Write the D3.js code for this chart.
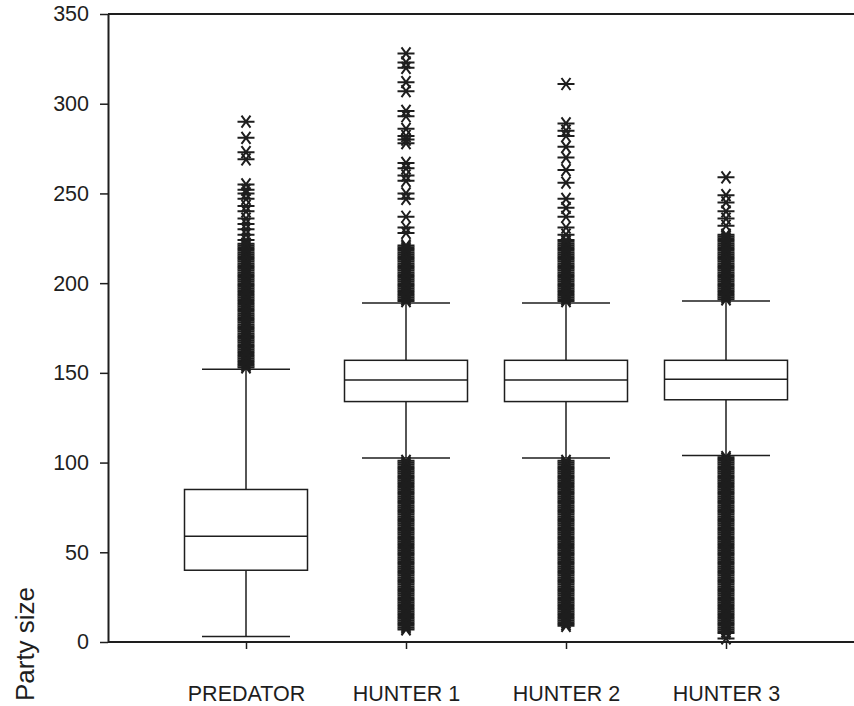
<!DOCTYPE html>
<html>
<head>
<meta charset="utf-8">
<script src="https://cdn.jsdelivr.net/npm/d3@7"></script>
<style>
  body { margin: 0; background: #fff; }
  text { font-family: "Liberation Sans", Arial, sans-serif; fill: #1e1e1e; }
</style>
</head>
<body>
<script>
const width = 854, height = 706;

const categories = ["PREDATOR", "HUNTER 1", "HUNTER 2", "HUNTER 3"];
const yTicks = [0, 50, 100, 150, 200, 250, 300, 350];

// box statistics
const q1 = [40, 134, 134, 135];
const medians = [59, 146, 146, 146.5];
const q3 = [85, 157, 157, 157];
const whiskerLow = [3, 102.5, 102.5, 104];
const whiskerHigh = [152, 189, 189, 190];

// party sizes are integers: every value inside these spans shows up as an outlier
const denseLowSpans = [null, [7, 101], [9, 101], [5, 103]];
const denseHighSpans = [[153, 222], [190, 221], [190, 224], [191, 227]];
// isolated outliers
const sparseOutliers = [
  [224, 227, 230, 233, 236, 240, 243, 247, 250, 252, 255, 269, 273, 281, 290],
  [228, 231, 237, 247, 250, 257, 260, 264, 267, 278, 280, 282, 286, 293, 296, 307, 312, 320, 323, 328],
  [227, 231, 237, 242, 247, 256, 263, 270, 276, 282, 285, 289, 311],
  [2, 232, 236, 240, 245, 249, 259]
];

const ink = "#1e1e1e";
const fontSize = 21.5;

const svg = d3.select("body").append("svg")
  .attr("width", width)
  .attr("height", height);

const x = d3.scalePoint()
  .domain(categories)
  .range([108, 864])
  .padding(0.8625);

const y = d3.scaleLinear()
  .domain([0, 350])
  .range([642, 14]);

// frame top line (right side runs off the picture)
svg.append("line")
  .attr("x1", 108).attr("x2", width)
  .attr("y1", y(350)).attr("y2", y(350))
  .attr("stroke", ink).attr("stroke-width", 2);

// y axis
const yAxis = svg.append("g")
  .attr("transform", "translate(108,0)")
  .call(d3.axisLeft(y).tickValues(yTicks).tickSize(8).tickPadding(11).tickSizeOuter(0));
yAxis.select(".domain").attr("stroke", ink).attr("stroke-width", 2);
yAxis.selectAll(".tick line").attr("stroke", ink).attr("stroke-width", 1.5);
yAxis.selectAll(".tick text").attr("font-size", fontSize).attr("fill", ink)
  .attr("font-family", "Liberation Sans, Arial, sans-serif");

// x axis
const xAxis = svg.append("g")
  .attr("transform", "translate(0,642)")
  .call(d3.axisBottom(x).tickSize(7).tickSizeOuter(0));
xAxis.select(".domain").attr("d", "M108,0H" + width).attr("stroke", ink).attr("stroke-width", 2);
xAxis.selectAll(".tick line").attr("stroke", ink).attr("stroke-width", 1.5);
xAxis.selectAll(".tick text")
  .attr("font-size", fontSize).attr("fill", ink)
  .attr("font-family", "Liberation Sans, Arial, sans-serif")
  .attr("y", 59).attr("dy", 0);

// y axis title
svg.append("text")
  .attr("transform", "translate(34,644) rotate(-90)")
  .attr("text-anchor", "middle")
  .attr("font-size", 26)
  .text("Party size");

// outliers as asterisks
const star = "M-8.5,0H8.5M-4.5,-6L4.5,6M-4.5,6L4.5,-6";

const outlierData = [];
categories.forEach(function (c, i) {
  let vals = sparseOutliers[i].slice();
  [denseLowSpans[i], denseHighSpans[i]].forEach(function (s) {
    if (s) vals = vals.concat(d3.range(s[0], s[1] + 1));
  });
  vals.forEach(function (v) { outlierData.push({ cat: c, value: v }); });
});

svg.append("g")
  .selectAll("path")
  .data(outlierData)
  .enter()
  .append("path")
  .attr("d", star)
  .attr("transform", function (d) { return "translate(" + x(d.cat) + "," + y(d.value) + ")"; })
  .attr("fill", "none")
  .attr("stroke", ink)
  .attr("stroke-width", 2);

// boxes
const boxW = 123, capW = 88;
const boxes = svg.append("g")
  .selectAll("g")
  .data(categories)
  .enter()
  .append("g")
  .attr("stroke", ink)
  .attr("stroke-width", 1.5)
  .attr("fill", "none");

boxes.append("line")
  .attr("x1", d => x(d)).attr("x2", d => x(d))
  .attr("y1", (d, i) => y(whiskerLow[i])).attr("y2", (d, i) => y(q1[i]));
boxes.append("line")
  .attr("x1", d => x(d)).attr("x2", d => x(d))
  .attr("y1", (d, i) => y(q3[i])).attr("y2", (d, i) => y(whiskerHigh[i]));
boxes.append("line")
  .attr("x1", d => x(d) - capW / 2).attr("x2", d => x(d) + capW / 2)
  .attr("y1", (d, i) => y(whiskerLow[i])).attr("y2", (d, i) => y(whiskerLow[i]));
boxes.append("line")
  .attr("x1", d => x(d) - capW / 2).attr("x2", d => x(d) + capW / 2)
  .attr("y1", (d, i) => y(whiskerHigh[i])).attr("y2", (d, i) => y(whiskerHigh[i]));
boxes.append("rect")
  .attr("x", d => x(d) - boxW / 2)
  .attr("width", boxW)
  .attr("y", (d, i) => y(q3[i]))
  .attr("height", (d, i) => y(q1[i]) - y(q3[i]))
  .attr("fill", "#fff");
boxes.append("line")
  .attr("x1", d => x(d) - boxW / 2).attr("x2", d => x(d) + boxW / 2)
  .attr("y1", (d, i) => y(medians[i])).attr("y2", (d, i) => y(medians[i]));
</script>
</body>
</html>
